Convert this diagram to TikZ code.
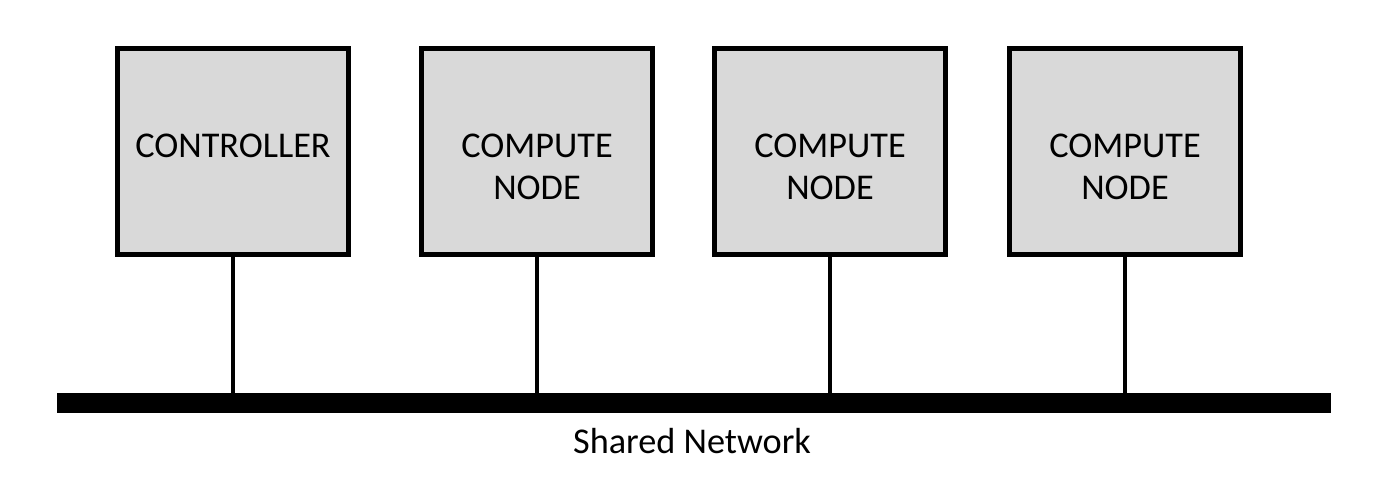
\documentclass[tikz,border=0pt]{standalone}
\usepackage{fontspec}
\setmainfont{Carlito}
\definecolor{boxgray}{HTML}{D9D9D9}
\begin{document}
\begin{tikzpicture}[x=0.75pt,y=-0.75pt,
  unit/.style={draw=black,fill=boxgray,line width=3.75pt,minimum width=173.25pt,minimum height=154.5pt,inner sep=0pt},
  lbl/.style={font=\fontsize{27.2}{31.5}\selectfont,anchor=base,inner sep=0pt},
  netbar/.style={fill=black,minimum width=955.5pt,minimum height=15pt,inner sep=0pt},
  link/.style={line width=3.5pt}]
\useasboundingbox (0,0) rectangle (1374,492);
\node[netbar] (net) at (694,403) {};
\node[unit] (c1) at (233,151.5) {};
\node[unit] (c2) at (537,151.5) {};
\node[unit] (c3) at (830,151.5) {};
\node[unit] (c4) at (1125,151.5) {};
\node[lbl] (t1) at (233,157) {CONTROLLER};
\node[lbl] (t2a) at (537,157) {COMPUTE};
\node[lbl] (t2b) at (537,199) {NODE};
\node[lbl] (t3a) at (830,157) {COMPUTE};
\node[lbl] (t3b) at (830,199) {NODE};
\node[lbl] (t4a) at (1125,157) {COMPUTE};
\node[lbl] (t4b) at (1125,199) {NODE};
\node[lbl] (sn) at (692,453) {Shared Network};
\foreach \n in {c1,c2,c3,c4}
  \draw[link] (\n.south) -- (\n.south |- net.north);
\end{tikzpicture}
\end{document}
